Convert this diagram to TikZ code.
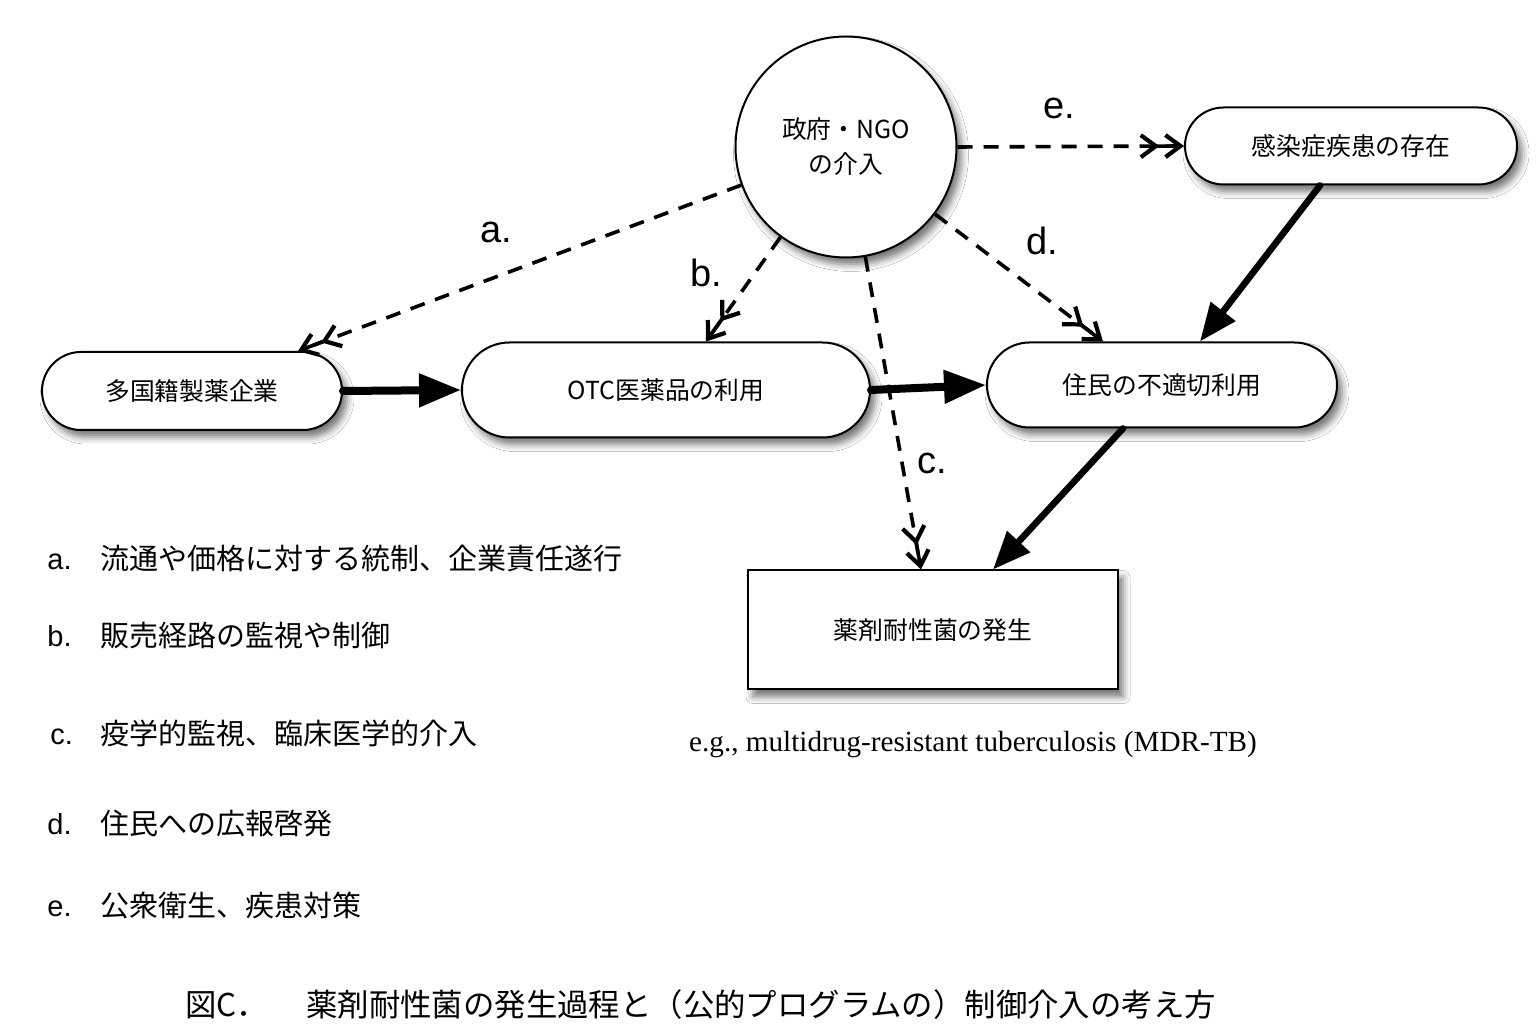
\documentclass[tikz,border=0pt]{standalone}
\usepackage{fontspec}
\setmainfont{Liberation Sans}
\newfontfamily\jp{Noto Sans CJK JP}
\newfontfamily\tms{Liberation Serif}
\usetikzlibrary{shapes.misc,shadows.blur,arrows.meta,calc}
\tikzset{
  shd/.style={blur shadow={shadow xshift=2.5pt,shadow yshift=-3.5pt,shadow blur radius=3.5pt,shadow opacity=55}},
  stadium/.style={rounded rectangle,draw,line width=1pt,fill=white,shd,inner sep=0pt,font=\fontsize{12.4}{14}\selectfont\jp},
  govcirc/.style={circle,draw,line width=1pt,fill=white,shd,minimum size=110.5pt,inner sep=0pt,align=center,font=\fontsize{12.4}{17.5}\selectfont\jp},
  outbox/.style={rectangle,draw,line width=1pt,fill=white,shd,inner sep=0pt,font=\fontsize{12.4}{14}\selectfont\jp},
  dasharrow/.style={line width=1.8pt,dash pattern=on 7.5pt off 5.5pt,
    -{Straight Barb[length=7.5pt,width=11pt,line width=2.1pt,sep=2pt]Straight Barb[length=7.5pt,width=11pt,line width=2.1pt]}},
  tipseg/.style={line width=1.8pt},
  thickarrow/.style={line width=4pt,line cap=round,-{Triangle[length=21pt,width=16pt]}},
  diagarrow/.style={line width=3.3pt,line cap=round,-{Triangle[length=19pt,width=15pt]}},
  lbl/.style={font=\fontsize{19}{22}\selectfont,inner sep=0pt},
  legletter/.style={font=\fontsize{14.5}{17}\selectfont,anchor=base west,inner sep=0pt},
  legtext/.style={font=\fontsize{14.5}{17}\selectfont\jp,anchor=base west,inner sep=0pt},
}
\begin{document}
\begin{tikzpicture}[x=0.5pt,y=-0.5pt]
\useasboundingbox (0,0) rectangle (1539,1036);
\fill[white] (0,0) rectangle (1539,1036);

% nodes
\node[govcirc] (gov) at (846,147) {政府・NGO\\の介入};
\node[stadium,minimum width=150pt,minimum height=39pt] (mnc) at (192,391) {多国籍製薬企業};
\node[stadium,minimum width=204pt,minimum height=47.5pt] (otc) at (666,390) {OTC医薬品の利用};
\node[stadium,minimum width=175pt,minimum height=42.5pt] (res) at (1162,385) {住民の不適切利用};
\node[stadium,minimum width=166pt,minimum height=38.5pt] (inf) at (1351,146) {感染症疾患の存在};
\node[outbox,minimum width=185pt,minimum height=59.5pt] (amr) at (933,630) {薬剤耐性菌の発生};

% connector end points
\coordinate (sa) at (gov.200);  \coordinate (ea) at ([xshift=53pt]mnc.north);
\coordinate (sb) at (gov.234);  \coordinate (eb) at ([xshift=20pt]otc.north);
\coordinate (sc) at (gov.280);  \coordinate (ec) at ([xshift=-6pt]amr.north);
\coordinate (sd) at (gov.323);  \coordinate (ed) at ([xshift=-29.5pt]res.north);
\coordinate (se) at (gov.east); \coordinate (ee) at (inf.west);

% dashed intervention arrows
\foreach \k in {a,b,c,d,e}{
  \draw[dasharrow] (s\k) -- (e\k);
  \draw[tipseg] ($(e\k)!15pt!(s\k)$) -- ($(e\k)!3pt!(s\k)$);
}

% solid causal arrows
\draw[thickarrow] (mnc.east) -- (otc.west);
\draw[thickarrow] (otc.east) -- (res.west);
\draw[diagarrow] ([xshift=-15.5pt]inf.south) -- ([xshift=19pt]res.north);
\draw[diagarrow] ([xshift=-19.5pt]res.south) -- ([xshift=30pt]amr.north);

% edge labels
\node[lbl] (la) at (496,232) {a.};
\node[lbl] (lb) at (706,273) {b.};
\node[lbl] (lc) at (932,463) {c.};
\node[lbl] (ld) at (1042,241) {d.};
\node[lbl] (le) at (1059,108) {e.};

% example
\node[font=\fontsize{14.6}{17}\selectfont\tms,inner sep=0pt] (eg) at (973,745) {e.g., multidrug-resistant tuberculosis (MDR-TB)};

% legend
\node[legletter] (ka) at (47,570) {a.};
\node[legtext] (ta) at (100,570) {流通や価格に対する統制、企業責任遂行};
\node[legletter] (kb) at (47,647) {b.};
\node[legtext] (tb) at (100,647) {販売経路の監視や制御};
\node[legletter] (kc) at (50,745) {c.};
\node[legtext] (tc) at (100,745) {疫学的監視、臨床医学的介入};
\node[legletter] (kd) at (47,835) {d.};
\node[legtext] (td) at (100,835) {住民への広報啓発};
\node[legletter] (ke) at (47,917) {e.};
\node[legtext] (te) at (100,917) {公衆衛生、疾患対策};

% caption
\node[font=\fontsize{15.7}{19}\selectfont\jp,anchor=west,inner sep=0pt] (cap) at (185,1005) {図C．\hspace{19pt}薬剤耐性菌の発生過程と（公的プログラムの）制御介入の考え方};
\end{tikzpicture}
\end{document}
